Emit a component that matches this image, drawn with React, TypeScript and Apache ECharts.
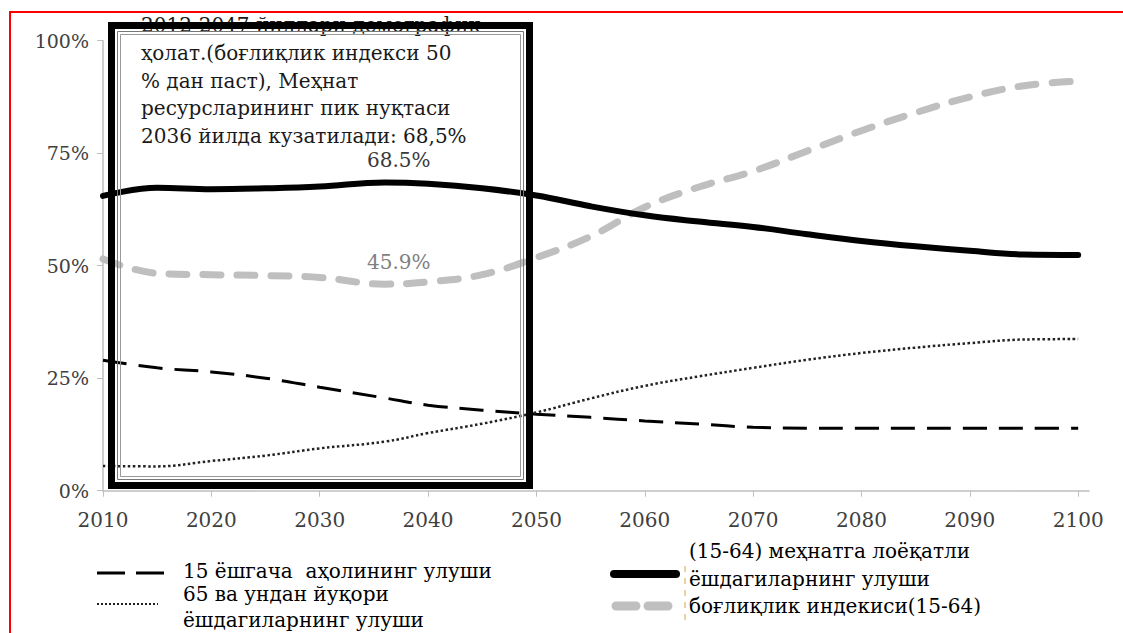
import React, { useEffect, useRef } from "react";
import * as echarts from "echarts";

const years = [2010, 2015, 2020, 2025, 2030, 2036, 2040, 2045, 2050, 2055, 2060, 2065, 2070, 2075, 2080, 2085, 2090, 2095, 2100];
const working = [65.5, 67.3, 67.0, 67.2, 67.6, 68.5, 68.2, 67.2, 65.6, 63.2, 61.2, 59.8, 58.6, 57.0, 55.5, 54.3, 53.3, 52.5, 52.4];
const dependency = [51.5, 48.3, 48.0, 47.8, 47.4, 45.9, 46.4, 48.0, 51.8, 56.5, 63.0, 67.5, 71.0, 75.5, 80.0, 84.0, 87.5, 90.0, 91.0];
const under15 = [29.0, 27.3, 26.4, 25.0, 23.0, 20.6, 19.0, 17.9, 17.0, 16.3, 15.5, 14.8, 14.1, 13.9, 13.9, 13.9, 13.9, 13.9, 13.9];
const over65 = [5.5, 5.4, 6.6, 7.8, 9.4, 10.9, 12.8, 14.9, 17.4, 20.5, 23.3, 25.4, 27.3, 29.1, 30.6, 31.8, 32.8, 33.6, 33.7];
const xTicks = [2010, 2020, 2030, 2040, 2050, 2060, 2070, 2080, 2090, 2100];
const yTicks = [0, 25, 50, 75, 100];
const peakYear = 2036;

const seriesNames = [
  "15 ёшгача  аҳолининг улуши",
  "65 ва ундан йуқори ёшдагиларнинг улуши",
  "(15-64) меҳнатга лоёқатли ёшдагиларнинг улуши",
  "боғлиқлик индекиси(15-64)",
];
const boxLines = [
  "2012-2047 йиллари демографик",
  "ҳолат.(боғлиқлик индекси 50",
  "% дан паст), Меҳнат",
  "ресурсларининг пик нуқтаси",
  "2036 йилда кузатилади: 68,5%",
];

const SERIF = "DejaVu Serif";

function pairs(vals: number[], labelText?: string, labelColor?: string) {
  return years.map((y, i) => {
    if (labelText && y === peakYear) {
      return {
        value: [y, vals[i]],
        label: {
          show: true,
          position: "top",
          distance: 12,
          offset: [14, 0],
          formatter: labelText,
          fontFamily: SERIF,
          fontSize: 20,
          color: labelColor,
        },
      };
    }
    return [y, vals[i]];
  });
}

export default function App() {
  const ref = useRef<HTMLDivElement>(null);
  useEffect(() => {
    if (!ref.current) return;
    const chart = echarts.init(ref.current, null, { renderer: "svg" });
    const txt = (text: string, x: number, y: number, size = 20, fill = "#000") => ({
      type: "text",
      x,
      y,
      z: 20,
      style: { text, fontFamily: SERIF, fontSize: size, fill, verticalAlign: "middle", textVerticalAlign: "middle" },
    });
    const gline = (x1: number, y1: number, x2: number, y2: number, stroke: string, lineWidth: number, lineDash?: number[], lineCap = "butt") => ({
      type: "line",
      z: 20,
      shape: { x1, y1, x2, y2 },
      style: { stroke, lineWidth, lineDash, lineCap },
    });
    chart.setOption({
      animation: false,
      backgroundColor: "#fff",
      grid: { left: 103, right: 34, top: 40.7, bottom: 142.3, containLabel: false },
      xAxis: {
        type: "value",
        min: 2010,
        max: 2101,
        interval: 10,
        splitLine: { show: false },
        axisLine: { show: true, lineStyle: { color: "#bfbfbf", width: 1.5 } },
        axisTick: { show: true, length: 6, lineStyle: { color: "#bfbfbf" }, customValues: xTicks },
        axisLabel: {
          customValues: xTicks,
          formatter: (v: number) => String(v),
          margin: 19,
          fontFamily: SERIF,
          fontSize: 20,
          color: "#404040",
        },
      },
      yAxis: {
        type: "value",
        min: 0,
        max: 100,
        interval: 25,
        splitLine: { show: false },
        axisLine: { show: true, lineStyle: { color: "#bfbfbf", width: 1.5 } },
        axisTick: { show: true, length: 6, lineStyle: { color: "#bfbfbf" }, customValues: yTicks },
        axisLabel: {
          customValues: yTicks,
          formatter: "{value}%",
          margin: 14,
          fontFamily: SERIF,
          fontSize: 19,
          color: "#404040",
        },
      },
      series: [
        {
          name: seriesNames[0],
          type: "line",
          smooth: 0.4,
          showSymbol: false,
          data: pairs(under15),
          lineStyle: { color: "#000", width: 3, type: [24, 12] },
          z: 3,
        },
        {
          name: seriesNames[1],
          type: "line",
          smooth: 0.4,
          showSymbol: false,
          data: pairs(over65),
          lineStyle: { color: "#222", width: 2.5, type: [2.5, 2.5] },
          z: 3,
        },
        {
          name: seriesNames[2],
          type: "line",
          smooth: 0.4,
          showSymbol: true,
          symbol: "circle",
          symbolSize: 0,
          data: pairs(working, "68.5%", "#3a3a3a"),
          lineStyle: { color: "#000", width: 6, cap: "round" },
          z: 4,
        },
        {
          name: seriesNames[3],
          type: "line",
          smooth: 0.4,
          showSymbol: true,
          symbol: "circle",
          symbolSize: 0,
          data: pairs(dependency, "45.9%", "#7f7f7f"),
          lineStyle: { color: "#bfbfbf", width: 7, type: [18, 16], cap: "round" },
          z: 2,
        },
      ],
      graphic: [
        {
          type: "polyline",
          z: 30,
          shape: { points: [[10, 640], [10, 12], [1130, 12]] },
          style: { stroke: "#ff0000", lineWidth: 2, fill: "none" },
        },
        ...boxLines.map((t, i) => txt(t, 141, 25 + i * 27.8, 20, "#1a1a1a")),
        {
          type: "rect",
          z: 25,
          shape: { x: 111.5, y: 25.5, width: 418, height: 460 },
          style: { fill: "none", stroke: "#000", lineWidth: 7 },
        },
        {
          type: "rect",
          z: 25,
          shape: { x: 117.5, y: 31.5, width: 406, height: 448 },
          style: { fill: "none", stroke: "#777", lineWidth: 1 },
        },
        {
          type: "rect",
          z: 25,
          shape: { x: 120.5, y: 34.5, width: 400, height: 442 },
          style: { fill: "none", stroke: "#999", lineWidth: 1 },
        },
        gline(97, 573, 164, 573, "#000", 3, [28, 11]),
        txt(seriesNames[0], 183, 571, 20),
        gline(97, 604, 158, 604, "#222", 2, [2, 2]),
        txt("65 ва ундан йуқори", 183, 594, 20),
        txt("ёшдагиларнинг улуши", 183, 620, 20),
        gline(614, 574, 676, 574, "#000", 8, undefined, "round"),
        txt("(15-64) меҳнатга лоёқатли", 689, 551, 20),
        txt("ёшдагиларнинг улуши", 689, 579, 20),
        gline(616, 606, 668, 606, "#bfbfbf", 9, [20, 12], "round"),
        txt(seriesNames[3], 689, 606, 20),
        gline(685, 566, 685, 625, "#e0a040", 1, [6, 6]),
      ],
    });
    return () => chart.dispose();
  }, []);
  return <div ref={ref} style={{ position: "fixed", left: 0, top: 0, width: 1123, height: 633 }} />;
}
